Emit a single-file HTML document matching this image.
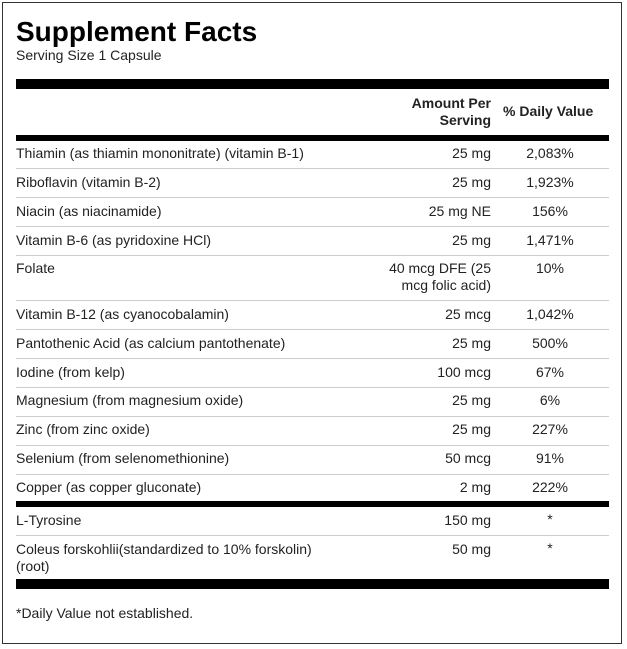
<!DOCTYPE html>
<html><head><meta charset="utf-8">
<style>
body{margin:0;width:627px;height:649px;background:#fff;font-family:"Liberation Sans",Arial,sans-serif;color:#222;position:relative;overflow:hidden}
.box{position:absolute;left:2px;top:2px;width:618px;height:640px;border:1px solid #333}
.a{position:absolute;white-space:nowrap;font-size:14px;line-height:17px}
.bar{position:absolute;left:16px;width:593px;background:#000}
.sep{position:absolute;left:16px;width:593px;height:1px;background:#ccc}
.r{text-align:right}
.c{text-align:center}
</style></head><body>
<div class="box"></div>
<div class="a" style="left:16px;top:16px;font-size:28px;line-height:32px;font-weight:bold;color:#000">Supplement Facts</div>
<div class="a" style="left:16px;top:47px">Serving Size 1 Capsule</div>
<div class="bar" style="top:79px;height:10px"></div>
<div class="a r" style="left:391px;width:100px;top:95px;font-weight:bold">Amount Per<br>Serving</div>
<div class="a" style="left:503px;top:103px;font-weight:bold">% Daily Value</div>
<div class="bar" style="top:135px;height:6px"></div>
<div id="rows"></div>
<div class="bar" style="top:501px;height:6px"></div>
<div class="bar" style="top:579px;height:10px"></div>
<div class="a" style="left:16px;top:605px">*Daily Value not established.</div>
<script>
const names=["Thiamin (as thiamin mononitrate) (vitamin B-1)","Riboflavin (vitamin B-2)","Niacin (as niacinamide)","Vitamin B-6 (as pyridoxine HCl)","Folate","Vitamin B-12 (as cyanocobalamin)","Pantothenic Acid (as calcium pantothenate)","Iodine (from kelp)","Magnesium (from magnesium oxide)","Zinc (from zinc oxide)","Selenium (from selenomethionine)","Copper (as copper gluconate)","L-Tyrosine","Coleus forskohlii(standardized to 10% forskolin)<br>(root)"];
const amounts=["25 mg","25 mg","25 mg NE","25 mg","40 mcg DFE (25<br>mcg folic acid)","25 mcg","25 mg","100 mcg","25 mg","25 mg","50 mcg","2 mg","150 mg","50 mg"];
const dvs=["2,083%","1,923%","156%","1,471%","10%","1,042%","500%","67%","6%","227%","91%","222%","*","*"];
const tops=[145,174,203,232,260,306,335,364,392,421,450,479,512,541];
const seps=[168,197,226,255,300,329,358,387,416,445,474,535];
const root=document.getElementById('rows');
for(let i=0;i<names.length;i++){
  const n=document.createElement('div');n.className='a';n.style.left='16px';n.style.top=tops[i]+'px';n.innerHTML=names[i];
  
  
  root.appendChild(n);
  const a=document.createElement('div');a.className='a r';a.style.left='351px';a.style.width='140px';a.style.top=tops[i]+'px';a.innerHTML=amounts[i];
  
  
  root.appendChild(a);
  const d=document.createElement('div');d.className='a c';d.style.left='505px';d.style.width='90px';d.style.top=(tops[i]+(dvs[i]=='*'?-1:0))+'px';d.textContent=dvs[i];
  
  
  root.appendChild(d);
}
for(const y of seps){
  const s=document.createElement('div');s.className='sep';s.style.top=y+'px';
  
  
  root.appendChild(s);
}
</script>
</body></html>
